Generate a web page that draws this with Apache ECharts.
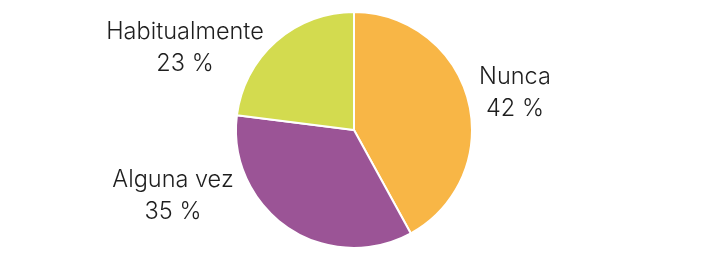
<!DOCTYPE html>
<html>
<head>
<meta charset="utf-8">
<script src="https://cdn.jsdelivr.net/npm/echarts@6/dist/echarts.min.js"></script>
<style>html,body{margin:0;padding:0;background:#fff;}#c{width:715px;height:253px;}</style>
</head>
<body>
<div id="c"></div>
<script>
var categories = ['Nunca', 'Alguna vez', 'Habitualmente'];
var values = [42, 35, 23];
var colors = ['#F8B646', '#9B5496', '#D3DB4F'];
// label block centres (layout only)
var labelCentres = [[515, 93], [173, 196], [185, 48]];

var chart = echarts.init(document.getElementById('c'), null, {renderer: 'canvas'});
chart.setOption({
  animation: false,
  series: [{
    type: 'pie',
    center: [354, 130],
    radius: 118,
    startAngle: 90,
    clockwise: true,
    data: categories.map(function (n, i) {
      return {name: n, value: values[i], itemStyle: {color: colors[i]}};
    }),
    itemStyle: {borderColor: '#fff', borderWidth: 2},
    label: {
      show: true,
      position: 'outside',
      formatter: function (p) { return p.name + '\n' + p.value + ' %'; },
      fontFamily: 'Inter',
      fontWeight: 300,
      fontSize: 23.5,
      lineHeight: 32,
      color: '#1e1e1e',
      align: 'center'
    },
    labelLine: {show: false},
    labelLayout: function (p) {
      var c = labelCentres[p.dataIndex];
      return {x: c[0], y: c[1], align: 'center', verticalAlign: 'middle'};
    }
  }]
});
</script>
</body>
</html>
